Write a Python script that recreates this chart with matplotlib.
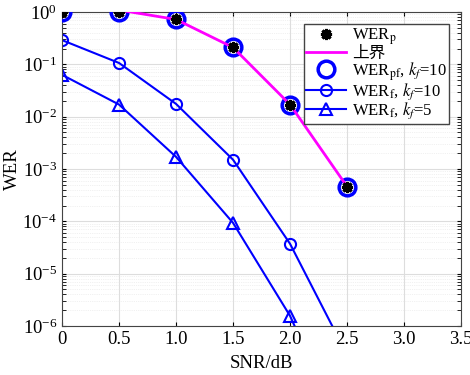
import numpy as np
import matplotlib.pyplot as plt

plt.rcParams['font.family'] = ['Liberation Serif', 'Noto Sans CJK SC']
plt.rcParams['mathtext.fontset'] = 'stix'

# data
snr = [0, 0.5, 1.0, 1.5, 2.0, 2.5]
wer_p = [1.0, 1.0, 0.72, 0.21, 0.017, 4.6e-4]
snr_ub = [0.5, 1.0, 1.5, 2.0, 2.5]
upper_bound = [1.09, 0.72, 0.21, 0.017, 4.6e-4]
wer_pf = [1.0, 1.0, 0.72, 0.21, 0.017, 4.6e-4]
wer_f10 = [0.29, 0.106, 0.0175, 0.0015, 3.7e-5, 2.8e-7]
wer_f5 = [0.063, 0.017, 0.0017, 9.3e-5, 1.55e-6, 6e-9]

xticks = [0, 0.5, 1.0, 1.5, 2.0, 2.5, 3.0, 3.5]
xticklabels = ['0', '0.5', '1.0', '1.5', '2.0', '2.5', '3.0', '3.5']

fig = plt.figure(figsize=(4.7, 3.75), dpi=100)
ax = fig.add_axes([0.132, 0.131, 0.849, 0.837])

ax.plot(snr, wer_p, ls='none', marker=(8, 2, 0), ms=8, mew=2.2, color='black',
        label=r'WER$_\mathrm{p}$', zorder=5)
ax.plot(snr_ub, upper_bound, color='#ff00ff', lw=2, label='上界', zorder=4)
ax.plot(snr, wer_pf, ls='none', marker='o', ms=12, mfc='none', mew=2.5, color='#0000ff',
        label=r'WER$_\mathrm{pf}$, $k_f$=10', zorder=3)
ax.plot(snr, wer_f10, color='#0000ff', lw=1.5, marker='o', ms=8, mfc='none', mew=1.5,
        label=r'WER$_\mathrm{f}$, $k_f$=10')
ax.plot(snr, wer_f5, color='#0000ff', lw=1.5, marker='^', ms=9, mfc='none', mew=1.5,
        label=r'WER$_\mathrm{f}$, $k_f$=5')

ax.set_yscale('log')
ax.set_xlim(0, 3.5)
ax.set_ylim(1e-6, 1)
ax.set_xticks(xticks)
ax.set_xticklabels(xticklabels)
ax.set_yticks([1e-6, 1e-5, 1e-4, 1e-3, 1e-2, 1e-1, 1])
ax.tick_params(labelsize=13.5, direction='in', length=3, which='both', top=True, right=True)
ax.grid(True, which='major', color='#dddddd', lw=0.8)
ax.grid(True, which='minor', color='#e4e4e4', lw=0.5, ls=':')
for s in ax.spines.values():
    s.set_color('#444444')

ax.set_xlabel('SNR/dB', fontsize=13.5, labelpad=5)
ax.set_ylabel('WER', fontsize=13.5, labelpad=1)

leg = ax.legend(loc='upper right', fontsize=12, frameon=True, fancybox=False, edgecolor='#444444',
                borderpad=0.15, labelspacing=-0.08, handlelength=2.4, handletextpad=0.35,
                borderaxespad=0.7, framealpha=1)

fig.savefig('out.png', dpi=100)
